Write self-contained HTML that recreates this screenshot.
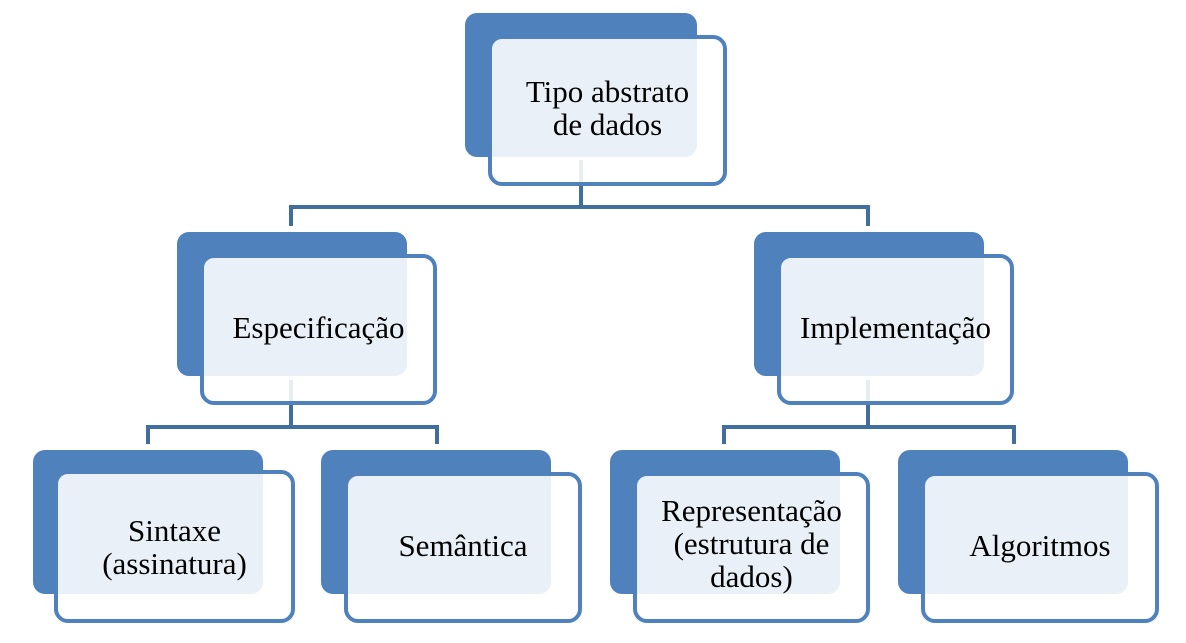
<!DOCTYPE html>
<html><head><meta charset="utf-8"><style>
body{margin:0;width:1186px;height:643px;background:#fff;position:relative;overflow:hidden;font-family:"Liberation Serif",serif;}
.b{position:absolute;background:#4f81bd;border-radius:12px;}
.f{position:absolute;box-sizing:border-box;border:4px solid #4f81bd;border-radius:14px;background:rgba(255,255,255,0.88);display:flex;align-items:center;justify-content:center;text-align:center;font-size:31px;line-height:33px;color:#000;white-space:nowrap;}
.l{position:absolute;background:#3f6e9f;}
</style></head><body>
<div class="b" style="left:465px;top:13px;width:232px;height:144px"></div>
<div class="b" style="left:177px;top:232px;width:230px;height:144px"></div>
<div class="b" style="left:754px;top:232px;width:230px;height:144px"></div>
<div class="b" style="left:33px;top:450px;width:230px;height:144px"></div>
<div class="b" style="left:321px;top:450px;width:230px;height:144px"></div>
<div class="b" style="left:610px;top:450px;width:230px;height:144px"></div>
<div class="b" style="left:898px;top:450px;width:230px;height:144px"></div>

<div class="l" style="left:579px;top:160px;width:4px;height:49px"></div>
<div class="l" style="left:289px;top:205px;width:581px;height:4px"></div>
<div class="l" style="left:289px;top:205px;width:4px;height:21px"></div>
<div class="l" style="left:866px;top:205px;width:4px;height:21px"></div>

<div class="l" style="left:289px;top:380px;width:4px;height:49px"></div>
<div class="l" style="left:146px;top:425px;width:293px;height:4px"></div>
<div class="l" style="left:146px;top:425px;width:4px;height:19px"></div>
<div class="l" style="left:435px;top:425px;width:4px;height:19px"></div>

<div class="l" style="left:866px;top:380px;width:4px;height:49px"></div>
<div class="l" style="left:722px;top:425px;width:294px;height:4px"></div>
<div class="l" style="left:722px;top:425px;width:4px;height:19px"></div>
<div class="l" style="left:1012px;top:425px;width:4px;height:19px"></div>

<div class="f" style="left:488px;top:35px;width:239px;height:151px"><div style="margin-top:-6px">Tipo abstrato<br>de dados</div></div>
<div class="f" style="left:200px;top:254px;width:237px;height:151px"><div style="margin-top:-4px">Especificação</div></div>
<div class="f" style="left:777px;top:254px;width:237px;height:151px"><div style="margin-top:-4px">Implementação</div></div>
<div class="f" style="left:54px;top:470px;width:241px;height:153px">Sintaxe<br>(assinatura)</div>
<div class="f" style="left:344px;top:472px;width:238px;height:151px"><div style="margin-top:-4px">Semântica</div></div>
<div class="f" style="left:633px;top:472px;width:237px;height:151px"><div style="margin-top:-8px">Representação<br>(estrutura de<br>dados)</div></div>
<div class="f" style="left:921px;top:472px;width:238px;height:151px"><div style="margin-top:-4px">Algoritmos</div></div>
</body></html>
